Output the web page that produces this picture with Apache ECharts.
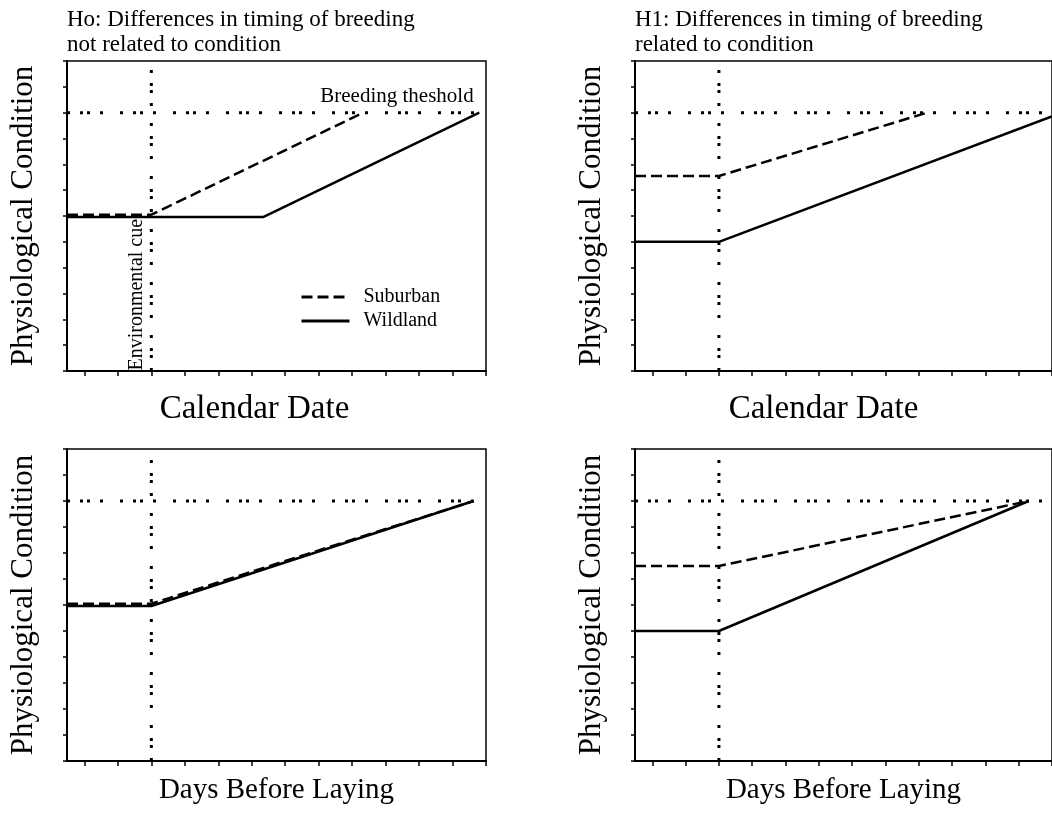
<!DOCTYPE html>
<html><head><meta charset="utf-8">
<script src="https://cdn.jsdelivr.net/npm/echarts@6/dist/echarts.min.js"></script>
<style>html,body{margin:0;padding:0;background:#fff}#c{width:1052px;height:818px}</style>
</head><body><div id="c"></div>
<script>
// ---- data ----
const panelTitles = ['Ho: Differences in timing of breeding\nnot related to condition', 'H1: Differences in timing of breeding\nrelated to condition', '', ''];
const xAxisNames = ['Calendar Date', 'Calendar Date', 'Days Before Laying', 'Days Before Laying'];
const yAxisName = 'Physiological Condition';
const xTicks = [1, 2, 3, 4, 5, 6, 7, 8, 9, 10, 11, 12, 13];
const yTicks = [0, 1, 2, 3, 4, 5, 6, 7, 8, 9, 10, 11, 12];
const xStart = 0.48, xEnd = 13, yStart = 0, yEnd = 12;
const cueDay = 3;
const threshold = 10;
const suburbanDays = [[0.48, 3, 9.33], [0.48, 3, 9.25], [0.48, 3, 12.63], [0.48, 3, 12.3]];
const suburbanCond = [[6.05, 6.05, 10], [7.55, 7.55, 10], [6.05, 6.05, 10], [7.5, 7.5, 10]];
const wildlandDays = [[0.48, 6.34, 12.8], [0.48, 3, 13.3], [0.48, 3, 12.63], [0.48, 3, 12.3]];
const wildlandCond = [[5.96, 5.96, 10], [5, 5, 10], [5.96, 5.96, 10], [5, 5, 10]];
const thresholdEnd = [13, 13, 12.63, 13];
const thresholdLabel = 'Breeding theshold';
const cueLabel = 'Environmental cue';

// ---- layout / style ----
const FONT = "'Liberation Serif','Times New Roman',serif";
const grids = [
  {left: 67, top: 61, width: 419, height: 310},
  {left: 635, top: 61, width: 421, height: 310},
  {left: 67, top: 449, width: 419, height: 312},
  {left: 635, top: 449, width: 421, height: 312}
];
const xNameGaps = [22, 22, 15, 15];
const xNameSizes = [33, 33, 29, 29];
const xNamePad = [[0, 44, 0, 0], [0, 40, 0, 0], 0, 0];
const dotted = [3, 10, 3, 4, 3, 10, 3, 17];
const dashed = [11, 5];
const noSymbol = {color: 'rgba(0,0,0,0)', borderColor: 'rgba(0,0,0,0)', borderWidth: 0};

const zip = (a, b) => a.map((v, i) => [v, b[i]]);

const option = {
  backgroundColor: '#fff',
  animation: false,
  title: panelTitles.map((t, i) => ({
    text: t, left: grids[i].left, top: 7, padding: 0,
    textStyle: {fontFamily: FONT, fontSize: 23, lineHeight: 25, fontWeight: 'normal', color: '#000'}
  })).filter(t => t.text),
  legend: {
    orient: 'vertical', left: 300, top: 287, padding: 0,
    itemWidth: 48, itemHeight: 14, itemGap: 4,
    selectedMode: false,
    textStyle: {fontFamily: FONT, fontSize: 20, color: '#000', padding: [0, 0, 0, 9]},
    data: [
      {name: 'Suburban', itemStyle: noSymbol, lineStyle: {color: '#000', width: 3, type: dashed}},
      {name: 'Wildland', itemStyle: noSymbol, lineStyle: {color: '#000', width: 3, type: 'solid'}}
    ]
  },
  grid: grids.map(g => Object.assign({show: true, borderColor: '#000', borderWidth: 1.5, backgroundColor: 'transparent'}, g)),
  xAxis: grids.map((g, i) => ({
    type: 'value', gridIndex: i, min: xStart, max: xEnd,
    name: xAxisNames[i], nameLocation: 'middle', nameGap: xNameGaps[i],
    nameTextStyle: {fontFamily: FONT, fontSize: xNameSizes[i], color: '#000', padding: xNamePad[i]},
    axisLine: {show: true, onZero: false, lineStyle: {color: '#000', width: 2}},
    axisTick: {show: true, length: 5, customValues: xTicks, lineStyle: {color: '#000', width: 1.5}},
    axisLabel: {show: false},
    splitLine: {show: false}
  })),
  yAxis: grids.map((g, i) => ({
    type: 'value', gridIndex: i, min: yStart, max: yEnd, interval: 1,
    name: yAxisName, nameLocation: 'middle', nameGap: 28,
    nameTextStyle: {fontFamily: FONT, fontSize: 31, color: '#000'},
    axisLine: {show: true, onZero: false, lineStyle: {color: '#000', width: 2}},
    axisTick: {show: true, length: 4, customValues: yTicks, lineStyle: {color: '#000', width: 1.5}},
    axisLabel: {show: false},
    splitLine: {show: false}
  })),
  series: []
};

grids.forEach((g, i) => {
  option.series.push({
    type: 'line', xAxisIndex: i, yAxisIndex: i, symbol: 'none', silent: true,
    lineStyle: {color: '#000', width: 3, type: dotted, cap: 'butt'},
    data: [[xStart, threshold], [thresholdEnd[i], threshold]]
  });
  option.series.push({
    type: 'line', xAxisIndex: i, yAxisIndex: i, symbol: 'none', silent: true,
    lineStyle: {color: '#000', width: 3, type: dotted, cap: 'butt'},
    data: [[cueDay, yStart], [cueDay, yEnd]]
  });
  option.series.push({
    name: 'Wildland', type: 'line', xAxisIndex: i, yAxisIndex: i, symbol: 'none',
    itemStyle: {color: '#000'},
    lineStyle: {color: '#000', width: 2.5, type: 'solid'},
    data: zip(wildlandDays[i], wildlandCond[i])
  });
  option.series.push({
    name: 'Suburban', type: 'line', xAxisIndex: i, yAxisIndex: i, symbol: 'none',
    itemStyle: {color: '#000'},
    lineStyle: {color: '#000', width: 2.5, type: dashed},
    data: zip(suburbanDays[i], suburbanCond[i])
  });
});

option.series.push({
  type: 'scatter', xAxisIndex: 0, yAxisIndex: 0, symbolSize: 1, silent: true,
  itemStyle: {color: 'rgba(0,0,0,0)', opacity: 1},
  label: {show: true, formatter: thresholdLabel, position: 'top', distance: 5,
          fontFamily: FONT, fontSize: 21, color: '#000', opacity: 1},
  data: [[10.34, threshold]]
});
option.series.push({
  type: 'scatter', xAxisIndex: 0, yAxisIndex: 0, symbolSize: 1, silent: true,
  itemStyle: {color: 'rgba(0,0,0,0)', opacity: 1},
  label: {show: true, formatter: cueLabel, position: [-4, 0], rotate: 90,
          align: 'left', verticalAlign: 'bottom',
          fontFamily: FONT, fontSize: 20, color: '#000', opacity: 1},
  data: [[cueDay, yStart]]
});

const chart = echarts.init(document.getElementById('c'), null, {renderer: 'canvas'});
chart.setOption(option);
</script></body></html>
